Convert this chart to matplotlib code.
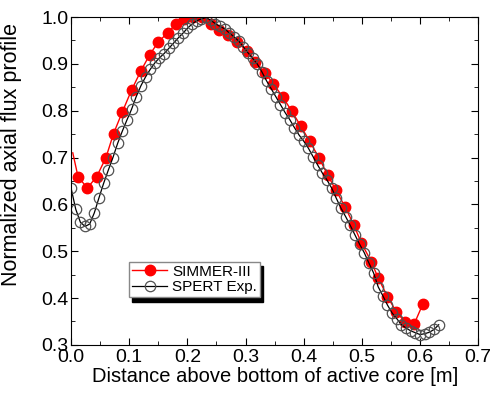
import matplotlib
matplotlib.use("Agg")
import matplotlib.pyplot as plt
from matplotlib.ticker import MultipleLocator

plt.rcParams['font.family'] = ['Liberation Sans', 'DejaVu Sans']

# SIMMER-III calculation (first point is the line start, no marker)
sim_x = [0.003, 0.012, 0.028, 0.044, 0.060, 0.073, 0.088, 0.104, 0.120, 0.135,
         0.150, 0.166, 0.180, 0.195, 0.210, 0.225, 0.240, 0.255, 0.270, 0.286,
         0.302, 0.317, 0.333, 0.348, 0.364, 0.379, 0.395, 0.410, 0.426, 0.441,
         0.455, 0.471, 0.486, 0.499, 0.516, 0.528, 0.544, 0.559, 0.574, 0.590,
         0.605]
sim_y = [0.710, 0.659, 0.635, 0.659, 0.700, 0.751, 0.797, 0.844, 0.885, 0.919,
         0.947, 0.966, 0.985, 0.996, 1.001, 1.001, 0.985, 0.972, 0.962, 0.946,
         0.928, 0.905, 0.881, 0.857, 0.829, 0.800, 0.767, 0.735, 0.700, 0.663,
         0.631, 0.595, 0.556, 0.518, 0.478, 0.443, 0.403, 0.371, 0.349, 0.345,
         0.388]

# SPERT experiment
exp_x = [0.000, 0.008, 0.016, 0.024, 0.032, 0.040, 0.048, 0.056, 0.064, 0.072,
         0.080, 0.088, 0.096, 0.104, 0.112, 0.120, 0.128, 0.136, 0.144, 0.152,
         0.160, 0.168, 0.176, 0.184, 0.192, 0.200, 0.208, 0.216, 0.224, 0.232,
         0.240, 0.248, 0.256, 0.264, 0.272, 0.280, 0.288, 0.296, 0.304, 0.312,
         0.320, 0.328, 0.336, 0.344, 0.352, 0.360, 0.368, 0.376, 0.384, 0.392,
         0.400, 0.408, 0.416, 0.424, 0.432, 0.440, 0.448, 0.456, 0.464, 0.472,
         0.480, 0.488, 0.496, 0.504, 0.512, 0.520, 0.528, 0.536, 0.544, 0.552,
         0.560, 0.568, 0.576, 0.584, 0.592, 0.600, 0.608, 0.616, 0.624, 0.632]
exp_y = [0.635, 0.590, 0.562, 0.553, 0.558, 0.582, 0.614, 0.645, 0.673, 0.700,
         0.730, 0.756, 0.780, 0.803, 0.830, 0.853, 0.872, 0.888, 0.902, 0.913,
         0.922, 0.933, 0.944, 0.955, 0.965, 0.976, 0.985, 0.992, 0.996, 0.999,
         0.993, 0.986, 0.980, 0.975, 0.966, 0.958, 0.949, 0.937, 0.924, 0.912,
         0.900, 0.883, 0.864, 0.847, 0.830, 0.813, 0.796, 0.781, 0.764, 0.748,
         0.735, 0.720, 0.702, 0.684, 0.667, 0.652, 0.635, 0.613, 0.592, 0.574,
         0.555, 0.535, 0.515, 0.497, 0.475, 0.454, 0.424, 0.405, 0.385, 0.368,
         0.356, 0.343, 0.336, 0.330, 0.326, 0.322, 0.324, 0.327, 0.333, 0.343]

fig = plt.figure(figsize=(4.9, 3.96), dpi=100)
ax = fig.add_axes([0.145, 0.129, 0.831, 0.828])

ax.plot(sim_x, sim_y, color='red', lw=1.0, marker='o', markersize=7.5,
        markevery=list(range(1, len(sim_x))), label='SIMMER-III')
ax.plot(exp_x, exp_y, color='black', lw=0.9, marker='o', markersize=7.5,
        markerfacecolor='none', markeredgecolor='#505050', markeredgewidth=0.9,
        label='SPERT Exp.')

ax.set_xlim(0.0, 0.7)
ax.set_ylim(0.3, 1.0)
ax.xaxis.set_major_locator(MultipleLocator(0.1))
ax.xaxis.set_minor_locator(MultipleLocator(0.05))
ax.yaxis.set_major_locator(MultipleLocator(0.1))
ax.yaxis.set_minor_locator(MultipleLocator(0.05))
ax.tick_params(which='both', direction='in', top=True, right=True, labelsize=14)
ax.tick_params(axis='x', pad=3)
ax.tick_params(axis='y', pad=2)
ax.tick_params(which='major', length=5)
ax.tick_params(which='minor', length=3)
ax.set_xticklabels(['%.1f' % v for v in ax.get_xticks()])
ax.set_yticklabels(['%.1f' % v for v in ax.get_yticks()])

ax.set_xlabel('Distance above bottom of active core [m]', fontsize=14.5, labelpad=1)
ax.set_ylabel('Normalized axial flux profile', fontsize=15.5)
ax.yaxis.set_label_coords(-0.12, 0.58)

leg = ax.legend(loc='lower left', bbox_to_anchor=(0.143, 0.145), fontsize=11,
                frameon=True, fancybox=False, edgecolor='#888888',
                shadow={'color': 'black', 'alpha': 1.0, 'ox': 2, 'oy': -3},
                handlelength=2.3, borderpad=0.2, labelspacing=0.1,
                handletextpad=0.3, borderaxespad=0)

fig.savefig('out.png', dpi=100)
